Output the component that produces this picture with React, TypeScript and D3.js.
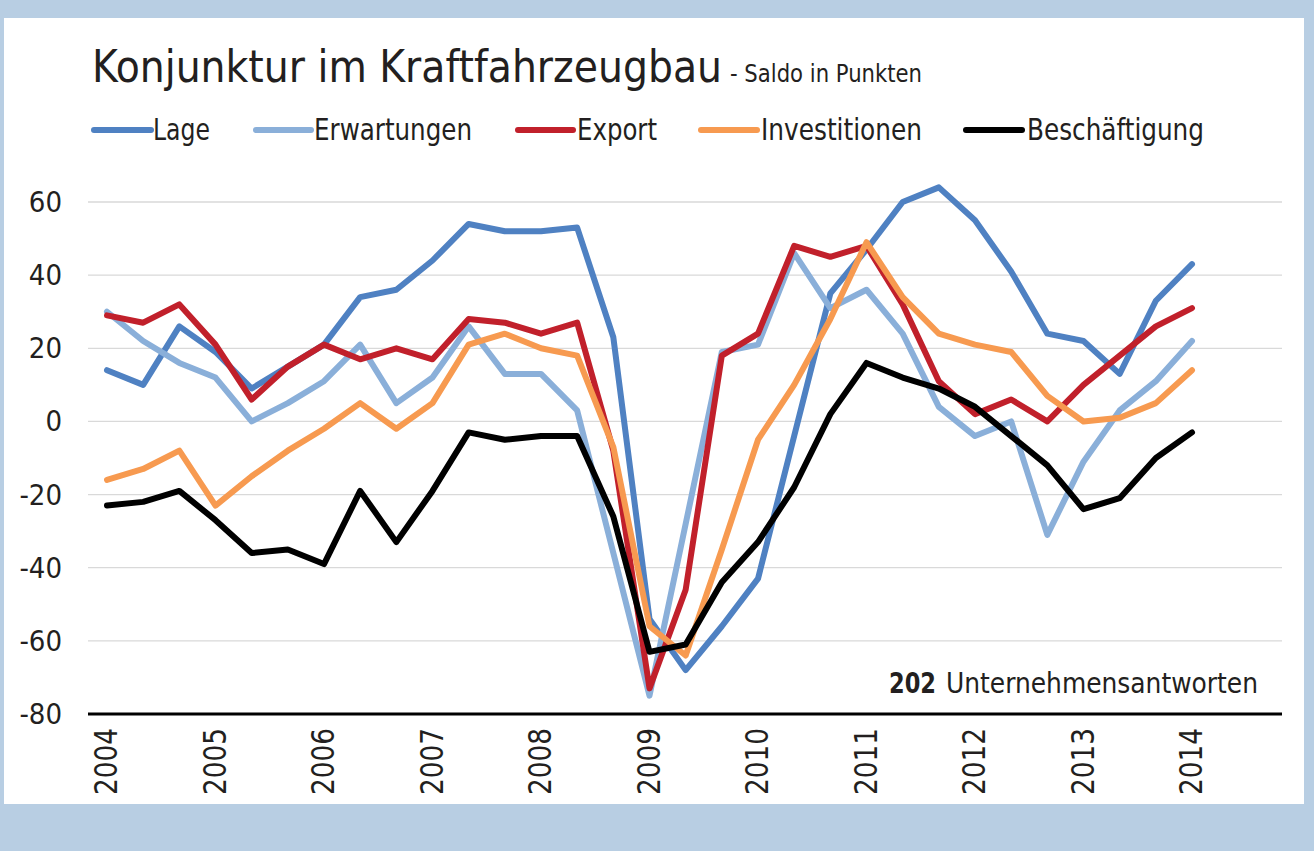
import React from "react";
import * as d3 from "d3";

const years = ["2004", "2005", "2006", "2007", "2008", "2009", "2010", "2011", "2012", "2013", "2014"];
const yTicks = [-80, -60, -40, -20, 0, 20, 40, 60];

const lage = [14, 10, 26, 19, 9, 15, 21, 34, 36, 44, 54, 52, 52, 53, 23, -54, -68, -56, -43, -4, 35, 47, 60, 64, 55, 41, 24, 22, 13, 33, 43];
const erwartungen = [30, 22, 16, 12, 0, 5, 11, 21, 5, 12, 26, 13, 13, 3, -36, -75, -28, 19, 21, 46, 31, 36, 24, 4, -4, 0, -31, -11, 3, 11, 22];
const exportVals = [29, 27, 32, 21, 6, 15, 21, 17, 20, 17, 28, 27, 24, 27, -8, -73, -46, 18, 24, 48, 45, 48, 32, 11, 2, 6, 0, 10, 18, 26, 31];
const investitionen = [-16, -13, -8, -23, -15, -8, -2, 5, -2, 5, 21, 24, 20, 18, -7, -56, -64, -35, -5, 10, 28, 49, 34, 24, 21, 19, 7, 0, 1, 5, 14];
const beschaeftigung = [-23, -22, -19, -27, -36, -35, -39, -19, -33, -19, -3, -5, -4, -4, -26, -63, -61, -44, -33, -18, 2, 16, 12, 9, 4, -4, -12, -24, -21, -10, -3];

const seriesNames = ["Lage", "Erwartungen", "Export", "Investitionen", "Beschäftigung"];
const seriesColors = ["#4f81c2", "#8aafd9", "#c1202b", "#f79a50", "#000000"];
const seriesData = [lage, erwartungen, exportVals, investitionen, beschaeftigung];

const FONT = "'Liberation Sans Narrow', 'DejaVu Sans Condensed', 'Roboto', sans-serif";

export default function App() {
  const W = 1314;
  const H = 851;
  const x = d3.scaleLinear().domain([0, 30]).range([107, 1192]);
  const y = d3.scaleLinear().domain([-80, 60]).range([714, 202]);
  const line = d3
    .line<number>()
    .x((_, i) => x(i))
    .y((d) => y(d));

  const legendPos = [
    { m0: 94, m1: 151, tx: 153, tw: 57 },
    { m0: 256, m1: 311, tx: 314, tw: 158 },
    { m0: 518, m1: 573, tx: 577, tw: 80 },
    { m0: 701, m1: 757, tx: 761, tw: 161 },
    { m0: 966, m1: 1022, tx: 1027, tw: 177 },
  ];

  return (
    <svg
      width={W}
      height={H}
      style={{ position: "absolute", left: 0, top: 0, display: "block" }}
      fontFamily={FONT}
    >
      <rect x={0} y={0} width={W} height={H} fill="#b8cee3" />
      <rect x={4} y={18} width={1300} height={786} fill="#ffffff" />

      <text x={92} y={82} fontSize={45} fill="#231f20" textLength={630} lengthAdjust="spacingAndGlyphs">
        Konjunktur im Kraftfahrzeugbau
      </text>
      <text x={730} y={82} fontSize={24} fill="#231f20" textLength={192} lengthAdjust="spacingAndGlyphs">
        - Saldo in Punkten
      </text>

      {seriesNames.map((n, i) => (
        <g key={n}>
          <line
            x1={legendPos[i].m0}
            x2={legendPos[i].m1}
            y1={130}
            y2={130}
            stroke={seriesColors[i]}
            strokeWidth={6}
            strokeLinecap="round"
          />
          <text
            x={legendPos[i].tx}
            y={140}
            fontSize={30}
            fill="#231f20"
            textLength={legendPos[i].tw}
            lengthAdjust="spacingAndGlyphs"
          >
            {n}
          </text>
        </g>
      ))}

      {yTicks
        .filter((t) => t !== -80)
        .map((t) => (
          <line key={t} x1={88} x2={1282} y1={y(t)} y2={y(t)} stroke="#d9d9d9" strokeWidth={1.3} />
        ))}

      {yTicks.map((t) => (
        <text key={t} x={62} y={y(t) + 10} fontSize={29} fill="#231f20" textAnchor="end">
          {t}
        </text>
      ))}

      {seriesData.map((d, i) => (
        <path
          key={seriesNames[i]}
          d={line(d) || ""}
          fill="none"
          stroke={seriesColors[i]}
          strokeWidth={6}
          strokeLinejoin="round"
          strokeLinecap="round"
        />
      ))}

      <line x1={88} x2={1282} y1={y(-80)} y2={y(-80)} stroke="#000" strokeWidth={3} />

      {years.map((yr, i) => (
        <text
          key={yr}
          transform={`translate(${x(i * 3) + 10},795) rotate(-90)`}
          fontSize={32}
          fill="#231f20"
          textLength={67}
          lengthAdjust="spacingAndGlyphs"
        >
          {yr}
        </text>
      ))}

      <text x={889} y={693} fontSize={29} fontWeight="bold" fill="#231f20" textLength={47} lengthAdjust="spacingAndGlyphs">
        202
      </text>
      <text x={946} y={693} fontSize={29} fill="#231f20" textLength={312} lengthAdjust="spacingAndGlyphs">
        Unternehmensantworten
      </text>
    </svg>
  );
}
